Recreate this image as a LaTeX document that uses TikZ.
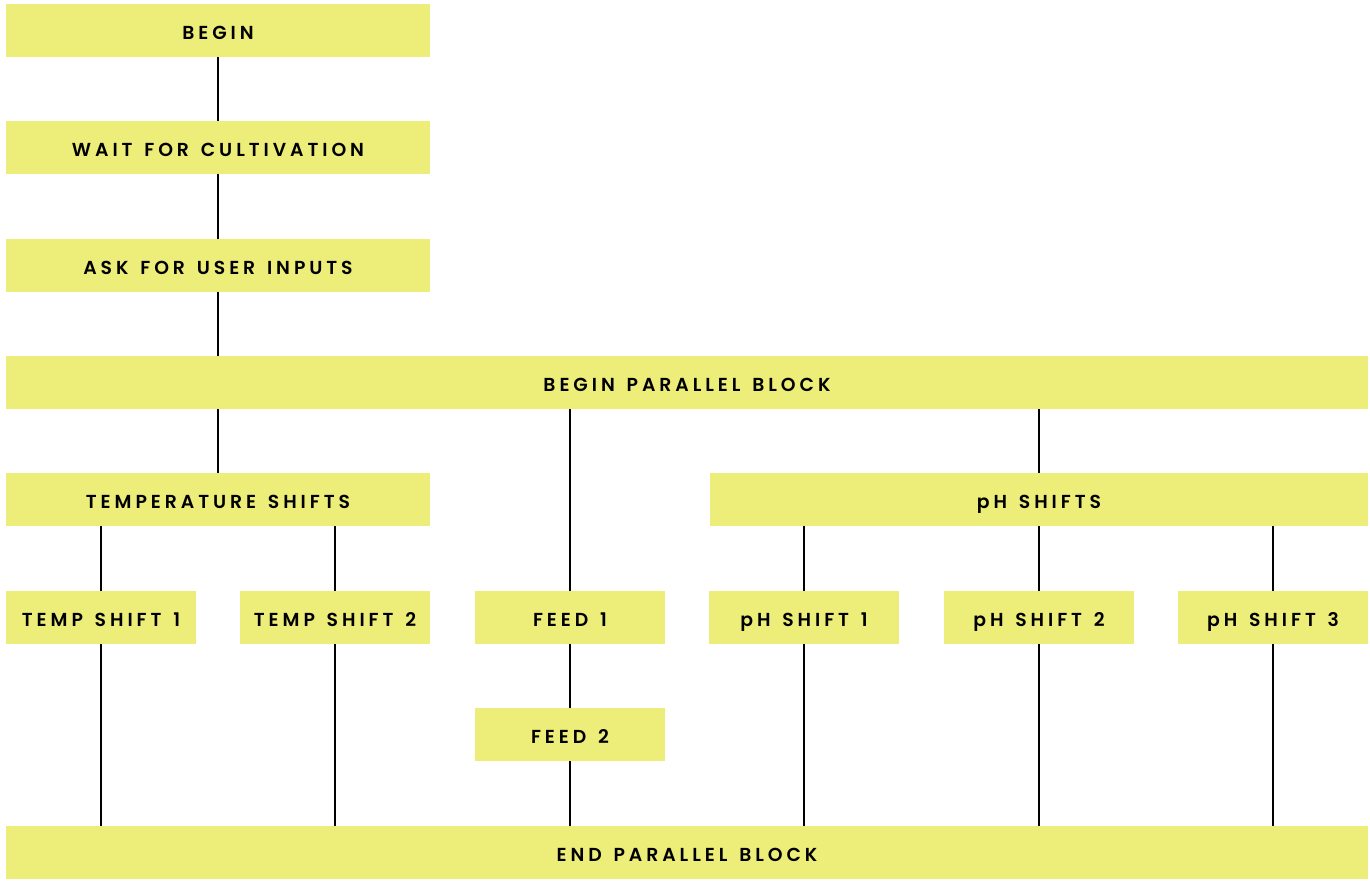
\documentclass[tikz,border=0pt]{standalone}
\usepackage{fontspec}
\newfontfamily\stepfont{Poppins}[LetterSpace=21, WordSpace=1.4, BoldFont={Poppins SemiBold}]
\definecolor{boxyellow}{RGB}{237,237,122}

\begin{document}
\begin{tikzpicture}[x=0.5pt,y=0.5pt]
\tikzstyle{every node}+=[inner sep=0pt]
\tikzstyle{stepbox}=[fill=boxyellow, minimum height=26.5pt, text height=9pt, text depth=0pt, font=\stepfont\fontsize{9.4}{11}\selectfont\bfseries]
\tikzstyle{small}=[stepbox, minimum width=95pt]
\tikzstyle{wide}=[stepbox, minimum width=212pt]
\tikzstyle{full}=[stepbox, minimum width=681pt]
\tikzstyle{link}=[black, line width=0.75pt]

\useasboundingbox (0,0) rectangle (1370,-887);

\node [wide] (begin) at (218,-30.5) {BEGIN};
\node [wide] (wait) at (218,-147.5) {WAIT FOR CULTIVATION};
\node [wide] (ask) at (218,-265.5) {ASK FOR USER INPUTS};
\node [full] (pbegin) at (687,-382.5) {BEGIN PARALLEL BLOCK};

\node [wide] (temp) at (218,-499.5) {TEMPERATURE SHIFTS};
\node [stepbox, minimum width=329pt] (ph) at (1039,-499.5) {pH SHIFTS};

\node [small] (temp1) at (101,-617.5) {TEMP SHIFT 1};
\node [small] (temp2) at (335,-617.5) {TEMP SHIFT 2};
\node [small] (feed1) at (570,-617.5) {FEED 1};
\node [small] (ph1) at (804,-617.5) {pH SHIFT 1};
\node [small] (ph2) at (1039,-617.5) {pH SHIFT 2};
\node [small] (ph3) at (1273,-617.5) {pH SHIFT 3};
\node [small] (feed2) at (570,-734.5) {FEED 2};

\node [full] (pend) at (687,-852.5) {END PARALLEL BLOCK};

% serial part
\draw [link] (begin) -- (wait);
\draw [link] (wait) -- (ask);
\draw [link] (ask.south) -- (ask.south |- pbegin.north);

% branches
\draw [link] (pbegin.south -| temp.north) -- (temp.north);
\draw [link] (pbegin.south -| feed1.north) -- (feed1.north);
\draw [link] (pbegin.south -| ph2.north) -- (ph.north -| ph2.north);
\foreach \t in {temp1,temp2}
  \draw [link] (temp.south -| \t.north) -- (\t.north);
\foreach \p in {ph1,ph2,ph3}
  \draw [link] (ph.south -| \p.north) -- (\p.north);

% joins
\draw [link] (feed1) -- (feed2);
\foreach \n in {temp1,temp2,feed2,ph1,ph2,ph3}
  \draw [link] (\n.south) -- (\n.south |- pend.north);
\end{tikzpicture}
\end{document}
